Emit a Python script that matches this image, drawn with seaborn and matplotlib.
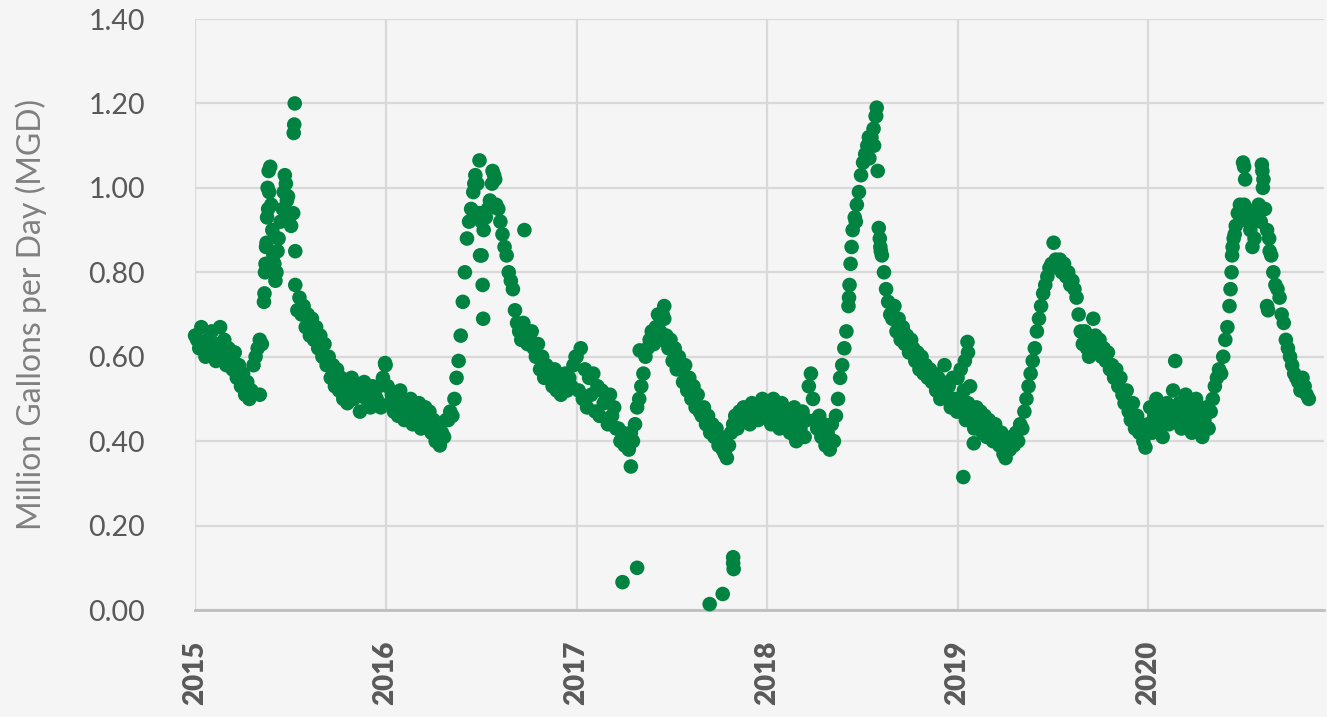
import numpy as np
import pandas as pd
import matplotlib
matplotlib.use("Agg")
import matplotlib.pyplot as plt
import seaborn as sns

# ---- data: daily-flow readings sampled every 4 days from Jan 1 of each year (MGD)
vals_2015 = [0.65, 0.64, 0.62, 0.67, 0.63, 0.60, 0.64, 0.61, 0.66, 0.62,
             0.59, 0.63, 0.67, 0.60, 0.64, 0.58, 0.62, 0.60, 0.57, 0.61,
             0.55, 0.58, 0.53, 0.56, 0.51, 0.54, 0.50, 0.52, 0.58, 0.60,
             0.62, 0.64, 0.63, 0.73, 0.86, 0.95, 1.05, 0.90, 0.82, 0.80,
             0.88, 0.92, 0.95, 1.03, 0.97, 0.93, 0.91, 0.94, 0.77, 0.71,
             0.74, 0.70, 0.72, 0.67, 0.70, 0.65, 0.69, 0.64, 0.67, 0.62,
             0.65, 0.60, 0.63, 0.58, 0.60, 0.55, 0.58, 0.53, 0.57, 0.52,
             0.55, 0.50, 0.54, 0.49, 0.52, 0.55, 0.50, 0.53, 0.51, 0.47,
             0.52, 0.54, 0.50, 0.52, 0.48, 0.53, 0.51, 0.50, 0.53, 0.48,
             0.55, 0.585]
vals_2016 = [0.58, 0.53, 0.49, 0.51, 0.47, 0.50, 0.46, 0.52, 0.48, 0.45,
             0.49, 0.46, 0.50, 0.44, 0.47, 0.45, 0.49, 0.43, 0.46, 0.48,
             0.44, 0.47, 0.42, 0.45, 0.40, 0.43, 0.39, 0.42, 0.41, 0.45,
             0.45, 0.47, 0.46, 0.50, 0.55, 0.59, 0.65, 0.73, 0.80, 0.88,
             0.92, 0.95, 0.99, 1.03, 1.01, 0.94, 0.92, 0.90, 0.93, 0.95,
             0.97, 1.01, 1.03, 0.96, 0.95, 0.92, 0.89, 0.86, 0.84, 0.80,
             0.78, 0.76, 0.71, 0.68, 0.66, 0.64, 0.68, 0.66, 0.63, 0.65,
             0.66, 0.62, 0.60, 0.63, 0.57, 0.60, 0.55, 0.58, 0.55, 0.57,
             0.53, 0.57, 0.52, 0.55, 0.51, 0.54, 0.56, 0.52, 0.55, 0.53,
             0.58, 0.60]
vals_2017 = [0.60, 0.52, 0.62, 0.50, 0.57, 0.48, 0.55, 0.51, 0.56, 0.47,
             0.53, 0.46, 0.52, 0.49, 0.50, 0.44, 0.51, 0.46, 0.48, 0.43,
             0.43, 0.40, 0.42, 0.39, 0.41, 0.38, 0.42, 0.40, 0.44, 0.48,
             0.50, 0.53, 0.56, 0.60, 0.62, 0.64, 0.66, 0.63, 0.67, 0.70,
             0.66, 0.64, 0.69, 0.65, 0.62, 0.64, 0.59, 0.62, 0.57, 0.60,
             0.57, 0.54, 0.58, 0.52, 0.55, 0.50, 0.53, 0.48, 0.51, 0.47,
             0.46, 0.48, 0.44, 0.46, 0.42, 0.44, 0.41, 0.43, 0.39, 0.41,
             0.38, 0.37, 0.36, 0.39, 0.42, 0.44, 0.46, 0.43, 0.47, 0.45,
             0.48, 0.45, 0.47, 0.44, 0.49, 0.46, 0.48, 0.45, 0.47, 0.50,
             0.46, 0.49]
vals_2018 = [0.46, 0.48, 0.44, 0.50, 0.45, 0.47, 0.43, 0.49, 0.46, 0.44,
             0.47, 0.42, 0.45, 0.48, 0.40, 0.46, 0.43, 0.47, 0.41, 0.45,
             0.53, 0.56, 0.50, 0.45, 0.43, 0.46, 0.41, 0.44, 0.39, 0.42,
             0.38, 0.44, 0.40, 0.46, 0.50, 0.55, 0.58, 0.62, 0.66, 0.72,
             0.82, 0.90, 0.93, 0.96, 0.99, 1.03, 1.06, 1.08, 1.10, 1.07,
             1.12, 1.14, 1.17, 1.04, 0.88, 0.84, 0.80, 0.76, 0.73, 0.70,
             0.69, 0.72, 0.66, 0.69, 0.64, 0.67, 0.63, 0.65, 0.61, 0.64,
             0.62, 0.59, 0.61, 0.57, 0.60, 0.56, 0.58, 0.55, 0.57, 0.54,
             0.56, 0.52, 0.55, 0.50, 0.54, 0.58, 0.51, 0.53, 0.48, 0.55,
             0.50, 0.47]
vals_2019 = [0.55, 0.50, 0.47, 0.52, 0.45, 0.49, 0.53, 0.46, 0.43, 0.48,
             0.44, 0.47, 0.42, 0.46, 0.41, 0.45, 0.43, 0.40, 0.44, 0.41,
             0.39, 0.42, 0.37, 0.36, 0.40, 0.38, 0.41, 0.39, 0.42, 0.40,
             0.44, 0.43, 0.47, 0.50, 0.53, 0.56, 0.59, 0.62, 0.66, 0.69,
             0.72, 0.75, 0.77, 0.79, 0.81, 0.82, 0.87, 0.83, 0.81, 0.83,
             0.80, 0.82, 0.79, 0.80, 0.77, 0.78, 0.76, 0.74, 0.70, 0.66,
             0.63, 0.66, 0.62, 0.60, 0.64, 0.69, 0.65, 0.62, 0.64, 0.60,
             0.62, 0.59, 0.61, 0.57, 0.58, 0.55, 0.57, 0.53, 0.55, 0.51,
             0.49, 0.52, 0.47, 0.45, 0.49, 0.43, 0.46, 0.42, 0.44, 0.40,
             0.385, 0.43]
vals_2020 = [0.44, 0.48, 0.42, 0.46, 0.50, 0.43, 0.47, 0.41, 0.45, 0.49,
             0.44, 0.47, 0.52, 0.59, 0.45, 0.49, 0.43, 0.47, 0.51, 0.44,
             0.48, 0.42, 0.46, 0.50, 0.44, 0.47, 0.41, 0.45, 0.48, 0.43,
             0.47, 0.50, 0.53, 0.55, 0.57, 0.56, 0.60, 0.64, 0.67, 0.72,
             0.80, 0.88, 0.91, 0.94, 0.96, 0.93, 0.96, 0.95, 0.92, 0.90,
             0.94, 0.88, 0.93, 0.96, 0.92, 1.00, 0.95, 0.90, 0.88, 0.84,
             0.80, 0.77, 0.76, 0.74, 0.70, 0.68, 0.64, 0.62, 0.60, 0.58,
             0.56, 0.55, 0.54, 0.52, 0.55, 0.53, 0.51, 0.50]

# ---- extra individual readings (day of year, value): steep climbs, spikes, outliers
extra_days_2015 = [124, 133, 134, 135, 137, 138, 139, 141, 142, 146, 150, 154, 158,
                   170, 174, 178, 189, 190, 191, 192]
extra_vals_2015 = [0.51, 0.75, 0.80, 0.82, 0.87, 0.93, 1.00, 1.04, 0.99, 0.96, 0.84,
                   0.78, 0.85, 0.99, 1.01, 0.98, 1.13, 1.15, 1.20, 0.85]
extra_days_2016 = [170, 180, 181, 184, 186, 187, 205, 210, 266]
extra_vals_2016 = [1.01, 1.065, 0.84, 0.84, 0.77, 0.69, 1.04, 1.02, 0.90]
extra_days_2017 = [88, 104, 116, 121, 165, 168, 255, 280, 300, 300, 301]
extra_vals_2017 = [0.066, 0.34, 0.10, 0.615, 0.70, 0.72, 0.014, 0.038, 0.125, 0.111, 0.097]
extra_days_2018 = [157, 158, 162, 170, 195, 205, 209, 210, 214, 217, 218]
extra_vals_2018 = [0.74, 0.77, 0.86, 0.92, 1.12, 1.10, 1.17, 1.19, 0.905, 0.86, 0.85]
extra_days_2019 = [6, 11, 14, 19, 20, 31]
extra_vals_2019 = [0.57, 0.315, 0.59, 0.635, 0.61, 0.395]
extra_days_2020 = [158, 161, 162, 166, 182, 184, 186, 200, 218, 219, 221, 228, 230, 233]
extra_vals_2020 = [0.76, 0.84, 0.86, 0.89, 1.06, 1.05, 1.02, 0.86, 1.055, 1.04, 1.02,
                   0.72, 0.71, 0.85]

y_ticks = [0.0, 0.2, 0.4, 0.6, 0.8, 1.0, 1.2, 1.4]
years = [2015, 2016, 2017, 2018, 2019, 2020]

# ---- assemble
grid = {2015: vals_2015, 2016: vals_2016, 2017: vals_2017,
        2018: vals_2018, 2019: vals_2019, 2020: vals_2020}
extras = {2015: (extra_days_2015, extra_vals_2015), 2016: (extra_days_2016, extra_vals_2016),
          2017: (extra_days_2017, extra_vals_2017), 2018: (extra_days_2018, extra_vals_2018),
          2019: (extra_days_2019, extra_vals_2019), 2020: (extra_days_2020, extra_vals_2020)}
frames = []
for yr in years:
    start = pd.Timestamp(f"{yr}-01-01")
    v = grid[yr]
    frames.append(pd.DataFrame({"date": start + pd.to_timedelta(np.arange(len(v)) * 4, unit="D"),
                                "mgd": v}))
    d, ev = extras[yr]
    n = min(len(d), len(ev))
    frames.append(pd.DataFrame({"date": start + pd.to_timedelta(np.array(d[:n]), unit="D"),
                                "mgd": ev[:n]}))
df = pd.concat(frames, ignore_index=True).sort_values("date")

# ---- style
bg = "#f5f5f5"
green = "#008240"
sns.set_theme(style="white")
plt.rcParams["font.family"] = ["Lato", "DejaVu Sans"]

fig = plt.figure(figsize=(13.27, 7.17), dpi=100, facecolor=bg)
ax = fig.add_axes([0.1470, 0.1492, 0.8507, 0.8243])
ax.set_facecolor(bg)

sns.scatterplot(data=df, x="date", y="mgd", ax=ax, color=green, s=110,
                linewidth=0, edgecolor="none", clip_on=False, zorder=3, legend=False)

ax.set_ylim(0, 1.4)
ax.set_xlim(pd.Timestamp("2015-01-01"), pd.Timestamp("2020-12-03"))
ax.set_yticks(y_ticks)
ax.set_yticklabels([f"{t:.2f}" for t in y_ticks])
ax.set_xticks([pd.Timestamp(f"{y}-01-01") for y in years])
ax.set_xticklabels([str(y) for y in years], rotation=90, fontweight="heavy")

ax.grid(True, axis="both", color="#d9d9d9", linewidth=1.6, zorder=0)
ax.set_axisbelow(True)
for s in ["top", "right", "left"]:
    ax.spines[s].set_visible(False)
ax.spines["bottom"].set_color("#bfbfbf")
ax.spines["bottom"].set_linewidth(2.0)

ax.tick_params(axis="y", length=0, pad=36, labelsize=20.5, labelcolor="#595959")
ax.tick_params(axis="x", length=0, pad=22, labelsize=20, labelcolor="#595959")
for lab in ax.get_xticklabels():
    lab.set_fontweight("heavy")

ax.set_xlabel("")
ax.set_ylabel("Million Gallons per Day (MGD)", fontsize=23, color="#808080", labelpad=30)

fig.savefig("out.png", dpi=100, facecolor=bg)
